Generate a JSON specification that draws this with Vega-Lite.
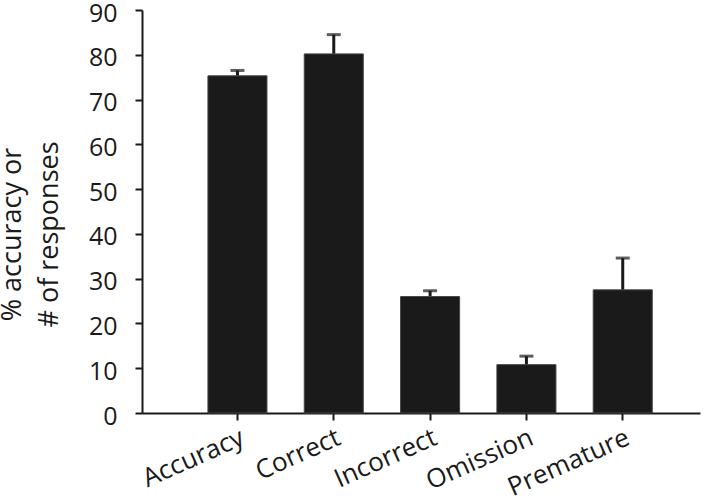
{
  "$schema": "https://vega.github.io/schema/vega-lite/v6.json",
  "autosize": {"type": "none"},
  "padding": {"left": 142, "top": 10, "right": 20, "bottom": 87},
  "width": 558,
  "height": 403,
  "background": "white",
  "config": {
    "view": {"stroke": null},
    "font": "Open Sans",
    "axis": {
      "domainColor": "#1a1a1a",
      "domainWidth": 2,
      "tickColor": "#1a1a1a",
      "tickWidth": 2,
      "tickSize": 7,
      "labelColor": "#1a1a1a",
      "labelFontSize": 25,
      "labelFont": "Open Sans",
      "titleFont": "Open Sans",
      "titleColor": "#1a1a1a",
      "grid": false
    }
  },
  "data": {
    "values": [
      {"measure": "Accuracy", "value": 75.3, "upper": 76.5},
      {"measure": "Correct", "value": 80.2, "upper": 84.5},
      {"measure": "Incorrect", "value": 26.0, "upper": 27.3},
      {"measure": "Omission", "value": 10.8, "upper": 12.7},
      {"measure": "Premature", "value": 27.5, "upper": 34.6}
    ]
  },
  "encoding": {
    "x": {
      "field": "measure",
      "type": "nominal",
      "sort": null,
      "scale": {"paddingInner": 0.387, "paddingOuter": 0.59, "align": 0.58},
      "axis": {
        "title": null,
        "labelAngle": -24,
        "labelAlign": "right",
        "labelBaseline": "top",
        "labelFontSize": 26,
        "labelPadding": 4
      }
    }
  },
  "layer": [
    {
      "mark": {"type": "rule", "color": "#1a1a1a", "strokeWidth": 3},
      "encoding": {
        "y": {"field": "value", "type": "quantitative"},
        "y2": {"field": "upper"}
      }
    },
    {
      "mark": {"type": "tick", "color": "#1a1a1a", "size": 14, "thickness": 3, "orient": "horizontal"},
      "encoding": {
        "y": {"field": "upper", "type": "quantitative"}
      }
    },
    {
      "mark": {"type": "bar", "color": "#1a1a1a", "stroke": "#444444", "strokeWidth": 1},
      "encoding": {
        "y": {
          "field": "value",
          "type": "quantitative",
          "scale": {"domain": [0, 90], "nice": false},
          "axis": {
            "values": [0, 10, 20, 30, 40, 50, 60, 70, 80, 90],
            "title": ["% accuracy or", "# of responses"],
            "titleFontSize": 27,
            "titleFontWeight": "normal",
            "titleLineHeight": 37,
            "titleX": -116,
            "titleY": 224,
            "titleBaseline": "bottom",
            "titleAlign": "center",
            "labelPadding": 18,
            "labelOffset": 3
          }
        }
      }
    }
  ]
}
